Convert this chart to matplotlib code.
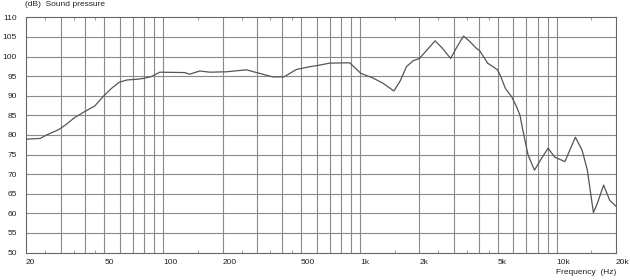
import matplotlib.pyplot as plt
import matplotlib.ticker as mticker

# frequency response
freq_hz = [20, 23.6, 25.5, 29.2, 31.7, 35.3, 39.6, 44.8, 49.6, 54.5, 59.5, 65,
           73.6, 78.8, 87.1, 95.8, 128, 136, 153, 172, 209, 264, 308, 359,
           410, 475, 555, 623, 697, 884, 1008, 1152, 1305, 1485, 1600, 1720,
           1857, 2003, 2200, 2405, 2620, 2885, 3112, 3356, 3616, 3898, 4051,
           4450, 4800, 5000, 5200, 5470, 5900, 6240, 6500, 6730, 7140, 7700,
           8360, 9030, 9770, 11000, 12430, 13450, 14300, 15350, 16100, 17300,
           18580, 20000]
spl_db = [78.9, 79.1, 80.0, 81.3, 82.5, 84.4, 85.9, 87.4, 89.9, 91.9, 93.4, 94.0,
          94.2, 94.4, 94.9, 96.0, 95.9, 95.5, 96.3, 96.0, 96.1, 96.6, 95.7, 94.8,
          94.8, 96.7, 97.4, 97.8, 98.3, 98.4, 95.7, 94.6, 93.2, 91.2, 93.8, 97.4,
          98.9, 99.5, 101.8, 104.0, 102.1, 99.5, 102.5, 105.2, 103.8, 102.1, 101.5,
          98.3, 97.2, 96.6, 94.8, 91.9, 89.7, 87.2, 85.0, 81.0, 74.9, 71.0,
          74.0, 76.6, 74.3, 73.2, 79.4, 76.1, 71.0, 60.2, 62.6, 67.2,
          63.3, 61.8]

x_grid = [30, 40, 50, 60, 70, 80, 90, 100, 200, 300, 400, 500, 600, 700, 800,
          900, 1000, 2000, 3000, 4000, 5000, 6000, 7000, 8000, 9000, 10000]
x_minor = [25, 35, 45, 150, 250, 350, 450, 1500, 2500, 3500, 4500, 15000]
x_labels = {20: '20', 50: '50', 100: '100', 200: '200', 500: '500', 1000: '1k',
            2000: '2k', 5000: '5k', 10000: '10k', 20000: '20k'}
y_ticks = list(range(50, 111, 5))

plt.rcParams['font.family'] = ['Liberation Sans', 'DejaVu Sans']

fig = plt.figure(figsize=(6.3, 2.8), dpi=100)
fig.set_facecolor('white')
ax = fig.add_axes([26 / 630, 1 - 252.5 / 280, 590 / 630, (252.5 - 17.3) / 280])

gridCol = '#8a8a8a'
for f in x_grid:
    ax.axvline(f, color=gridCol, linewidth=0.8, zorder=1)
for v in y_ticks[1:-1]:
    ax.axhline(v, color=gridCol, linewidth=0.8, zorder=1)

ax.plot(freq_hz, spl_db, color='#555555', linewidth=0.9, zorder=3)

ax.set_xscale('log')
ax.set_xlim(20, 20000)
ax.set_ylim(50, 110)
for s in ax.spines.values():
    s.set_color('#666666')
    s.set_linewidth(0.8)

ax.xaxis.set_major_locator(mticker.FixedLocator(list(x_labels.keys())))
ax.xaxis.set_major_formatter(mticker.NullFormatter())
ax.xaxis.set_minor_locator(mticker.FixedLocator(x_minor))
ax.xaxis.set_minor_formatter(mticker.NullFormatter())
ax.tick_params(axis='x', which='both', direction='in', top=True, bottom=True,
               length=2.5, width=0.6, color='#888888')
ax.set_yticks(y_ticks)
ax.tick_params(axis='y', length=0, pad=6.5, labelsize=6, labelcolor='#222222')

for f, lab in x_labels.items():
    ax.annotate(lab, xy=(f, 0), xycoords=('data', 'axes fraction'),
                xytext=(0, -5), textcoords='offset points', ha='left', va='top',
                fontsize=6, color='#222222')

fig.text(25 / 630, 1 - 5 / 280, '(dB)  Sound pressure', ha='left', va='center',
         fontsize=6, color='#222222')
fig.text(616 / 630, 1 - 272.5 / 280, 'Frequency  (Hz)', ha='right', va='center',
         fontsize=6, color='#222222')

fig.savefig('out.png', dpi=100, facecolor='white')
